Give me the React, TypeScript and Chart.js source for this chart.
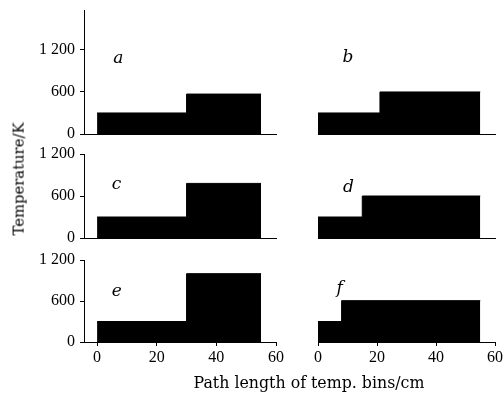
import React, { useEffect, useRef } from "react";
import { Chart, registerables } from "chart.js";

Chart.register(...registerables);

// ---- data ----
const panelLetters = ["a", "b", "c", "d", "e", "f"];
const edgesA = [0, 30, 55];
const tempsA = [300, 570];
const edgesB = [0, 21, 55];
const tempsB = [300, 600];
const edgesC = [0, 30, 55];
const tempsC = [300, 780];
const edgesD = [0, 15, 55];
const tempsD = [300, 600];
const edgesE = [0, 30, 55];
const tempsE = [300, 1000];
const edgesF = [0, 8, 55];
const tempsF = [300, 605];
const xTicks = [0, 20, 40, 60];
const yTicks = [0, 600, 1200];
const xTitle = "Path length of temp. bins/cm";
const yTitle = "Temperature/K";

// ---- layout ----
const TICK_FONT = { family: "'Liberation Serif', serif", size: 16 };
const LETTER_FONT = "italic 17px 'DejaVu Serif', serif";

type PanelProps = {
  edges: number[];
  temps: number[];
  letter: string;
  letterPos: [number, number];
  leftCol: boolean;
  bottomRow: boolean;
  chartTop: number;
  chartBottom: number;
  yMax: number;
};

const formatTick = (v: number) =>
  String(v).replace(/\B(?=(\d{3})+(?!\d))/g, " ");

function Panel(p: PanelProps) {
  const ref = useRef<HTMLCanvasElement | null>(null);
  const PAD = 20;
  const YW = 84;
  const XH = 30;
  const chartLeft = p.leftCol ? 84 : 318;
  const chartRight = p.leftCol ? 276 : 495;
  const canvasLeft = p.leftCol ? 0 : chartLeft - PAD;
  const width = p.leftCol ? YW + (chartRight - chartLeft) + PAD : chartRight - chartLeft + 2 * PAD;
  const canvasTop = p.chartTop - PAD;
  const bottomExtra = p.bottomRow ? XH + 10 : PAD;
  const height = p.chartBottom - p.chartTop + PAD + bottomExtra;
  const xMin = p.leftCol ? -4.4 : 0;

  useEffect(() => {
    if (!ref.current) return;
    const pts: { x: number; y: number }[] = [];
    for (let i = 0; i < p.temps.length; i++) {
      pts.push({ x: p.edges[i], y: p.temps[i] });
      pts.push({ x: p.edges[i + 1], y: p.temps[i] });
    }
    const letterPlugin = {
      id: "letter",
      afterDatasetsDraw(chart: any) {
        const ctx = chart.ctx;
        const xs = chart.scales.x;
        const ys = chart.scales.y;
        ctx.save();
        ctx.font = LETTER_FONT;
        ctx.fillStyle = "#000";
        ctx.textAlign = "left";
        ctx.textBaseline = "alphabetic";
        ctx.fillText(
          p.letter,
          xs.getPixelForValue(p.letterPos[0]),
          ys.getPixelForValue(p.letterPos[1])
        );
        ctx.restore();
      },
    };
    const chart = new Chart(ref.current, {
      type: "line",
      data: {
        datasets: [
          {
            data: pts,
            fill: "origin",
            backgroundColor: "#000",
            borderColor: "#000",
            borderWidth: 1,
            pointRadius: 0,
            tension: 0,
          },
        ],
      },
      options: {
        animation: false,
        responsive: false,
        devicePixelRatio: 1,
        events: [],
        layout: {
          padding: {
            left: p.leftCol ? 0 : PAD,
            right: PAD,
            top: PAD,
            bottom: p.bottomRow ? 10 : PAD,
          },
        },
        plugins: { legend: { display: false }, tooltip: { enabled: false } },
        scales: {
          x: {
            type: "linear",
            min: xMin,
            max: 60,
            afterBuildTicks: (s: any) => {
              s.ticks = xTicks.map((v) => ({ value: v }));
            },
            afterFit: (s: any) => {
              s.height = p.bottomRow ? XH : 0;
            },
            ticks: {
              display: p.bottomRow,
              font: TICK_FONT,
              color: "#000",
              padding: 2,
              maxRotation: 0,
              autoSkip: false,
            },
            grid: {
              display: true,
              drawOnChartArea: false,
              drawTicks: p.bottomRow,
              tickLength: 4,
              color: "#000",
              lineWidth: 1,
            },
            border: { display: true, color: "#000", width: 1 },
          },
          y: {
            type: "linear",
            display: p.leftCol,
            min: 0,
            max: p.yMax,
            afterBuildTicks: (s: any) => {
              s.ticks = yTicks.map((v) => ({ value: v }));
            },
            afterFit: (s: any) => {
              s.width = p.leftCol ? YW : 0;
            },
            ticks: {
              font: TICK_FONT,
              color: "#000",
              padding: 5,
              callback: (v: any) => formatTick(Number(v)),
            },
            grid: {
              display: true,
              drawOnChartArea: false,
              drawTicks: true,
              tickLength: 4,
              color: "#000",
              lineWidth: 1,
            },
            border: { display: true, color: "#000", width: 1 },
          },
        },
      } as any,
      plugins: [letterPlugin],
    });
    return () => chart.destroy();
  }, []);

  return (
    <canvas
      ref={ref}
      width={width}
      height={height}
      style={{
        position: "absolute",
        left: canvasLeft,
        top: canvasTop,
        width,
        height,
      }}
    />
  );
}

export default function App() {
  const rows = [
    { top: 10, bottom: 134, yMax: 1770 },
    { top: 154, bottom: 238, yMax: 1200 },
    { top: 260, bottom: 342, yMax: 1200 },
  ];
  const panels = [
    { edges: edgesA, temps: tempsA, pos: [5.4, 1014] },
    { edges: edgesB, temps: tempsB, pos: [8.3, 1033] },
    { edges: edgesC, temps: tempsC, pos: [4.9, 706] },
    { edges: edgesD, temps: tempsD, pos: [8.5, 657] },
    { edges: edgesE, temps: tempsE, pos: [4.9, 677] },
    { edges: edgesF, temps: tempsF, pos: [6.3, 716] },
  ];
  return (
    <div
      style={{
        position: "absolute",
        left: 0,
        top: 0,
        width: 504,
        height: 394,
        overflow: "hidden",
        background: "#fff",
      }}
    >
      {panels.map((pn, i) => {
        const r = rows[Math.floor(i / 2)];
        return (
          <Panel
            key={i}
            edges={pn.edges}
            temps={pn.temps}
            letter={panelLetters[i]}
            letterPos={pn.pos as [number, number]}
            leftCol={i % 2 === 0}
            bottomRow={i >= 4}
            chartTop={r.top}
            chartBottom={r.bottom}
            yMax={r.yMax}
          />
        );
      })}
      <div
        style={{
          position: "absolute",
          left: 159,
          top: 375,
          width: 300,
          textAlign: "center",
          fontFamily: "'DejaVu Serif', serif",
          fontSize: 15.8,
          lineHeight: 1,
          whiteSpace: "nowrap",
          color: "#000",
        }}
      >
        {xTitle}
      </div>
      <div
        style={{
          position: "absolute",
          left: 19,
          top: 179,
          transform: "translate(-50%, -50%) rotate(-90deg)",
          fontFamily: "'DejaVu Serif', serif",
          fontSize: 14.8,
          lineHeight: 1,
          whiteSpace: "nowrap",
          color: "#000",
        }}
      >
        {yTitle}
      </div>
    </div>
  );
}
